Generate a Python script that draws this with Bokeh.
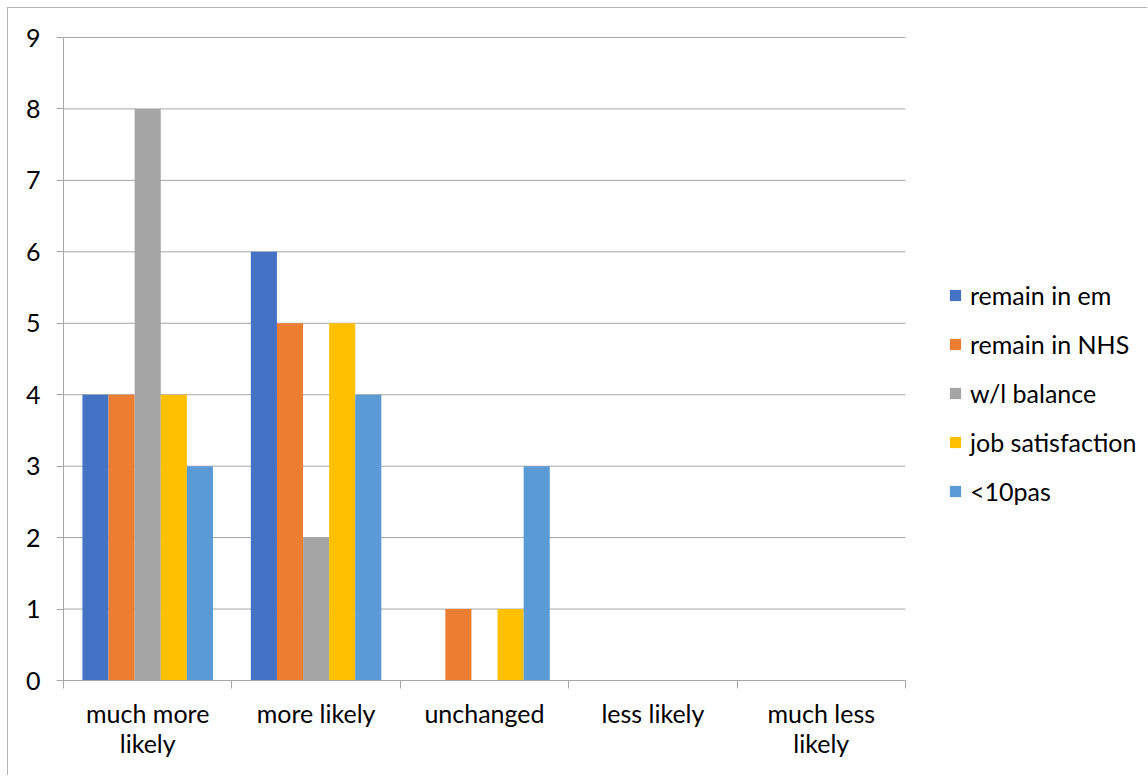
from bokeh.plotting import figure
from bokeh.models import FixedTicker, Legend, LegendItem, Range1d
from bokeh.embed import file_html
from bokeh.resources import INLINE

categories = ["much more\nlikely", "more likely", "unchanged", "less likely", "much less\nlikely"]
series_names = ["remain in em", "remain in NHS", "w/l balance", "job satisfaction", "<10pas"]
remain_in_em = [4, 6, 0, 0, 0]
remain_in_nhs = [4, 5, 1, 0, 0]
wl_balance = [8, 2, 0, 0, 0]
job_satisfaction = [4, 5, 1, 0, 0]
under_10pas = [3, 4, 3, 0, 0]
series_values = [remain_in_em, remain_in_nhs, wl_balance, job_satisfaction, under_10pas]
colors = ["#4472C4", "#ED7D31", "#A5A5A5", "#FFC000", "#5B9BD5"]
y_ticks = list(range(0, 10))

FONT = "Lato"
GRID = "#a6a6a6"

# plot area: categories occupy 842px, legend area to the right 243px
n = len(categories)
px_per_cat = 842 / n
x_end = n + 243 / px_per_cat
y_max = 9
y_end = y_max + y_max / 643  # one extra pixel so the top gridline is not clipped

p = figure(width=1140, height=768, output_backend="svg", toolbar_location=None,
           x_range=Range1d(0, x_end), y_range=Range1d(0, y_end),
           min_border_left=55, min_border_right=0, min_border_top=28, min_border_bottom=96,
           margin=(7, 0, 0, 7))
p.styles = {"border-left": "1px solid #b4b4b4", "border-top": "1px solid #b4b4b4"}
p.outline_line_color = None
p.background_fill_color = "white"
p.border_fill_color = "white"

# horizontal gridlines limited to the category area
p.xgrid.grid_line_color = None
p.ygrid.grid_line_color = None
p.segment(x0=[0] * len(y_ticks), x1=[n] * len(y_ticks), y0=y_ticks, y1=y_ticks,
          line_color=GRID, line_width=1)

bw = 0.155
items = []
for j, (name, vals, c) in enumerate(zip(series_names, series_values, colors)):
    xs = [i + 0.5 + (j - 2) * bw for i in range(n)]
    r = p.vbar(x=xs, top=vals, bottom=0, width=bw, fill_color=c, line_color=None)
    items.append(LegendItem(label=name, renderers=[r]))

# x axis
centers = [i + 0.5 for i in range(n)]
p.xaxis.bounds = (0, n)
p.xaxis.ticker = FixedTicker(ticks=centers, minor_ticks=list(range(n + 1)))
p.xaxis.major_label_overrides = {c: lab for c, lab in zip(centers, categories)}
p.xaxis.major_tick_out = 0
p.xaxis.major_tick_in = 0
p.xaxis.minor_tick_out = 8
p.xaxis.minor_tick_in = 0
p.xaxis.minor_tick_line_color = GRID
p.xaxis.axis_line_color = GRID
p.xaxis.major_label_text_font = FONT
p.xaxis.major_label_text_font_size = "25px"
p.xaxis.major_label_text_color = "#000000"
p.xaxis.major_label_text_line_height = 1.03
p.xaxis.major_label_standoff = 9

# y axis
p.yaxis.bounds = (0, y_max)
p.yaxis.ticker = FixedTicker(ticks=y_ticks, minor_ticks=[])
p.yaxis.major_tick_out = 7
p.yaxis.major_tick_in = 0
p.yaxis.major_tick_line_color = GRID
p.yaxis.axis_line_color = GRID
p.yaxis.major_label_text_font = FONT
p.yaxis.major_label_text_font_size = "25px"
p.yaxis.major_label_text_color = "#000000"
p.yaxis.major_label_standoff = 16

legend = Legend(items=items, location=(885, 174), orientation="vertical",
                label_text_font=FONT, label_text_font_size="25px", label_text_color="#000000",
                glyph_width=14, glyph_height=14, label_standoff=8, label_height=20,
                spacing=19, padding=0, margin=0, border_line_color=None,
                background_fill_alpha=0)
p.add_layout(legend, "center")

open("out.html", "w").write(file_html(p, INLINE))
